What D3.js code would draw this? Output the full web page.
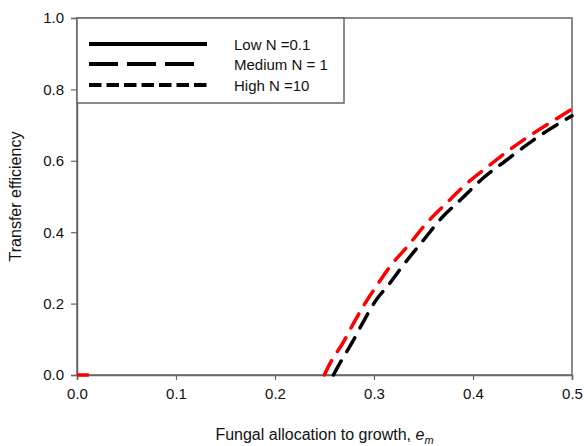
<!DOCTYPE html>
<html><head><meta charset="utf-8">
<script src="https://cdn.jsdelivr.net/npm/d3@7"></script>
<style>body{margin:0;background:#fff}svg{display:block}text{font-family:"Liberation Sans",Arial,sans-serif}</style>
</head><body>
<svg id="c" width="584" height="446"></svg>
<script>
// Data
const xTicks = [0.0, 0.1, 0.2, 0.3, 0.4, 0.5];
const yTicks = [0.0, 0.2, 0.4, 0.6, 0.8, 1.0];
const legendLabels = ["Low N =0.1", "Medium N = 1", "High N =10"];

const redEm  = [0.2498, 0.2575, 0.268, 0.279, 0.291, 0.301, 0.316, 0.335, 0.353, 0.373, 0.394, 0.417, 0.439, 0.461, 0.482, 0.5];
const redTE  = [0.0,    0.042,  0.087, 0.143, 0.201, 0.243, 0.303, 0.364, 0.425, 0.481, 0.537, 0.588, 0.635, 0.677, 0.714, 0.745];
const blackEm = [0.259, 0.2674, 0.2775, 0.2892, 0.3027, 0.314, 0.331, 0.350, 0.368, 0.389, 0.410, 0.432, 0.454, 0.476, 0.5];
const blackTE = [0.0,   0.042,  0.089,  0.149,  0.212,  0.250, 0.313, 0.378, 0.439, 0.495, 0.551, 0.598, 0.644, 0.686, 0.726];
const stubEm = [0.0, 0.012];
const stubTE = [0.0, 0.0];

const svg = d3.select("#c");
const L = 77, R = 572, T = 18, B = 375;
const x = d3.scaleLinear().domain([0, 0.5]).range([L, R]);
const y = d3.scaleLinear().domain([0, 1]).range([B, T]);
const axisColor = "#666";
const fs = "15px";

// frame
svg.append("rect").attr("x", L).attr("y", T).attr("width", R - L).attr("height", B - T)
  .attr("fill", "none").attr("stroke", axisColor).attr("stroke-width", 1.5);

const xa = svg.append("g").attr("transform", `translate(0,${B})`)
  .call(d3.axisBottom(x).tickValues(xTicks).tickFormat(d3.format(".1f")).tickSize(5).tickPadding(8));
const ya = svg.append("g").attr("transform", `translate(${L},0)`)
  .call(d3.axisLeft(y).tickValues(yTicks).tickFormat(d3.format(".1f")).tickSize(6).tickPadding(7));
[xa, ya].forEach(a => {
  a.select(".domain").attr("stroke", axisColor).attr("stroke-width", 1.5);
  a.selectAll(".tick line").attr("stroke", axisColor).attr("stroke-width", 1.2);
  a.selectAll(".tick text").attr("fill", "#111").style("font-size", fs)
    .style("font-family", '"Liberation Sans",Arial,sans-serif');
});

const line = d3.line().x(d => x(d[0])).y(d => y(d[1])).curve(d3.curveMonotoneX);
const plot = svg.append("g");
plot.append("path").datum(stubEm.map((e, i) => [e, stubTE[i]])).attr("d", line)
  .attr("fill", "none").attr("stroke", "#f00").attr("stroke-width", 3.5);
plot.append("path").datum(blackEm.map((e, i) => [e, blackTE[i]])).attr("d", line)
  .attr("fill", "none").attr("stroke", "#000").attr("stroke-width", 3.5)
  .attr("stroke-dasharray", "16,11").attr("stroke-linecap", "round");
plot.append("path").datum(redEm.map((e, i) => [e, redTE[i]])).attr("d", line)
  .attr("fill", "none").attr("stroke", "#f00").attr("stroke-width", 3.5)
  .attr("stroke-dasharray", "16,11").attr("stroke-linecap", "round");

// legend
const lg = svg.append("g");
lg.append("rect").attr("x", L).attr("y", T).attr("width", 344 - L).attr("height", 103 - T)
  .attr("fill", "#fff").attr("stroke", axisColor).attr("stroke-width", 1.5);
const dashes = [null, "29,9", "12.5,5"];
const ends = [207, 194, 207];
const rowsY = [44, 64, 85];
legendLabels.forEach((lab, i) => {
  lg.append("line").attr("x1", 89).attr("x2", ends[i]).attr("y1", rowsY[i]).attr("y2", rowsY[i])
    .attr("stroke", "#000").attr("stroke-width", 4)
    .attr("stroke-dasharray", dashes[i]);
  lg.append("text").attr("x", 234).attr("y", rowsY[i] + 5.5).style("font-size", fs)
    .attr("fill", "#111").text(lab);
});

// axis titles
const xt = svg.append("text").attr("x", (L + R) / 2).attr("y", 440).attr("text-anchor", "middle")
  .style("font-size", "16px").attr("fill", "#111");
xt.append("tspan").text("Fungal allocation to growth, ");
xt.append("tspan").attr("font-style", "italic").text("e");
xt.append("tspan").attr("font-style", "italic").attr("font-size", "11px").attr("dy", 4).text("m");

svg.append("text").attr("transform", `translate(21,${(T + B) / 2}) rotate(-90)`)
  .attr("text-anchor", "middle").style("font-size", "16px").attr("fill", "#111")
  .text("Transfer efficiency");
</script>
</body></html>
